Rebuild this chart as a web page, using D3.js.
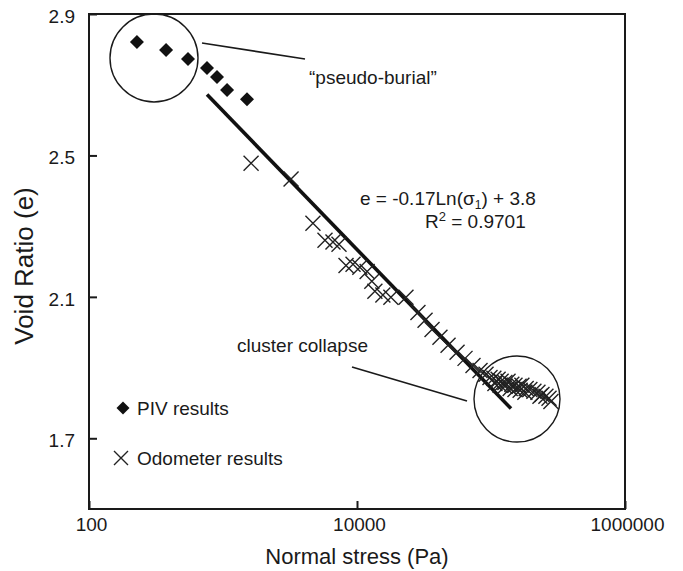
<!DOCTYPE html>
<html>
<head>
<meta charset="utf-8">
<script src="https://cdn.jsdelivr.net/npm/d3@7"></script>
<style>
  body { margin: 0; background: #fff; }
  text { font-family: "Liberation Sans", Arial, sans-serif; fill: #1a1a1a; }
</style>
</head>
<body>
<div id="chart"></div>
<script>
// PIV results (diamonds)
const pivStress = [228, 376, 548, 760, 902, 1072, 1510];
const pivVoid = [2.821, 2.798, 2.773, 2.747, 2.722, 2.685, 2.659];

// Odometer results (crosses)
const odoStress = [1620, 3220, 4690, 5770, 6620, 7340, 8280, 9340, 10500, 11900,
  12900, 13600, 15600, 17900, 23200, 28500, 32200, 36300, 41600, 47800,
  55800, 64000, 73400, 82800, 91800, 98300, 105000, 107000, 113000, 117000,
  119000, 127000, 127000, 134000, 139000, 143000, 151000, 151000, 162000, 165000,
  170000, 179000, 183000, 195000, 209000, 224000, 232000, 240000, 257000, 271000,
  280000];
const odoVoid = [2.478, 2.433, 2.308, 2.260, 2.255, 2.249, 2.189, 2.192, 2.184, 2.172,
  2.144, 2.116, 2.105, 2.099, 2.099, 2.056, 2.034, 2.008, 1.986, 1.963,
  1.943, 1.926, 1.906, 1.892, 1.881, 1.872, 1.870, 1.855, 1.867, 1.850,
  1.861, 1.858, 1.847, 1.861, 1.841, 1.853, 1.850, 1.838, 1.847, 1.836,
  1.850, 1.830, 1.841, 1.838, 1.833, 1.830, 1.819, 1.824, 1.819, 1.813,
  1.804];

// fitted log trend line end points
const trendStress = [760, 141000];
const trendVoid = [2.672, 1.784];

const xTicks = [100, 10000, 1000000];
const yTicks = [1.7, 2.1, 2.5, 2.9];

const W = 683, H = 571;
const margin = { top: 14, right: 58, bottom: 62, left: 89 };
const width = W - margin.left - margin.right;
const height = H - margin.top - margin.bottom;

const svg = d3.select("#chart").append("svg")
  .attr("width", W).attr("height", H);

const g = svg.append("g")
  .attr("transform", `translate(${margin.left},${margin.top})`);

const x = d3.scaleLog().domain([100, 1000000]).range([0, width]);
const y = d3.scaleLinear().domain([1.5, 2.9]).range([height, 0]);

// axes, ticks pointing inside
const xAxis = g.append("g")
  .attr("transform", `translate(0,${height})`)
  .call(d3.axisBottom(x).tickValues(xTicks).tickFormat(d3.format("d"))
    .tickSizeInner(-8).tickSizeOuter(0).tickPadding(9));
const yAxis = g.append("g")
  .call(d3.axisLeft(y).tickValues(yTicks).tickFormat(d3.format(".1f"))
    .tickSizeInner(-8).tickSizeOuter(0).tickPadding(14));

[xAxis, yAxis].forEach((a) => {
  a.select(".domain").remove();
  a.selectAll(".tick line").attr("stroke", "#1a1a1a").attr("stroke-width", 2);
  a.selectAll(".tick text").style("font-size", "19px").attr("fill", "#1a1a1a");
});
xAxis.selectAll(".tick text").attr("dx", 2);
yAxis.selectAll(".tick text").attr("dy", "0.45em");

// frame
g.append("rect")
  .attr("width", width).attr("height", height)
  .attr("fill", "none").attr("stroke", "#1a1a1a").attr("stroke-width", 2);

// axis titles
svg.append("text")
  .attr("x", 357).attr("y", 564)
  .attr("text-anchor", "middle").style("font-size", "22px")
  .text("Normal stress (Pa)");
svg.append("text")
  .attr("transform", "translate(33,266) rotate(-90)")
  .attr("text-anchor", "middle").style("font-size", "26px")
  .text("Void Ratio (e)");

// trend line
const trend = trendStress.map((s, i) => [s, trendVoid[i]]);
g.append("path")
  .datum(trend)
  .attr("d", d3.line().x((d) => x(d[0])).y((d) => y(d[1])))
  .attr("stroke", "#111").attr("stroke-width", 3.6).attr("fill", "none");

// odometer crosses
const crossPath = "M-7.5,-7.5L7.5,7.5M-7.5,7.5L7.5,-7.5";
g.selectAll(".odo")
  .data(odoStress.map((s, i) => ({ s, e: odoVoid[i] })))
  .enter().append("path")
  .attr("class", "odo")
  .attr("transform", (d) => `translate(${x(d.s)},${y(d.e)})`)
  .attr("d", crossPath)
  .attr("stroke", "#222").attr("stroke-width", 1.4).attr("fill", "none");

// PIV diamonds
const diamondPath = "M0,-7L7,0L0,7L-7,0Z";
g.selectAll(".piv")
  .data(pivStress.map((s, i) => ({ s, e: pivVoid[i] })))
  .enter().append("path")
  .attr("class", "piv")
  .attr("transform", (d) => `translate(${x(d.s)},${y(d.e)})`)
  .attr("d", diamondPath)
  .attr("fill", "#111");

// annotations
const ann = svg.append("g").attr("fill", "none").attr("stroke", "#1a1a1a").attr("stroke-width", 1.4);
ann.append("circle").attr("cx", 154).attr("cy", 58).attr("r", 44);
ann.append("line").attr("x1", 202).attr("y1", 43).attr("x2", 305).attr("y2", 59).attr("stroke-width", 1.6);
ann.append("circle").attr("cx", 517).attr("cy", 399).attr("r", 43);
ann.append("line").attr("x1", 352).attr("y1", 367).attr("x2", 467).attr("y2", 401).attr("stroke-width", 1.6);

svg.append("text").attr("x", 309).attr("y", 84).style("font-size", "19px")
  .text("\u201Cpseudo-burial\u201D");
svg.append("text").attr("x", 237).attr("y", 352).style("font-size", "19px")
  .text("cluster collapse");

const eq = svg.append("text").attr("x", 360).attr("y", 205).style("font-size", "19px");
eq.append("tspan").text("e = -0.17Ln(\u03C3");
eq.append("tspan").attr("dy", 4).style("font-size", "12px").text("1");
eq.append("tspan").attr("dy", -4).text(") + 3.8");

const r2 = svg.append("text").attr("x", 425).attr("y", 228).style("font-size", "19px");
r2.append("tspan").text("R");
r2.append("tspan").attr("dy", -7).style("font-size", "13px").text("2");
r2.append("tspan").attr("dy", 7).text(" = 0.9701");

// legend
svg.append("path").attr("transform", "translate(123,408)")
  .attr("d", "M0,-6.5L6.5,0L0,6.5L-6.5,0Z").attr("fill", "#111");
svg.append("text").attr("x", 137).attr("y", 415).style("font-size", "19px").text("PIV results");
svg.append("path").attr("transform", "translate(121,458)")
  .attr("d", "M-7,-7L7,7M-7,7L7,-7").attr("stroke", "#222").attr("stroke-width", 1.4).attr("fill", "none");
svg.append("text").attr("x", 137).attr("y", 465).style("font-size", "19px").text("Odometer results");
</script>
</body>
</html>
